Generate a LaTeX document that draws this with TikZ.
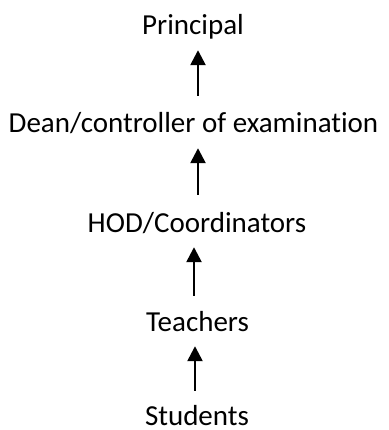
\documentclass[tikz,border=0pt]{standalone}
\usepackage{fontspec}
\setmainfont{Carlito}[Ligatures=NoCommon]
\usetikzlibrary{arrows.meta}

\begin{document}
\begin{tikzpicture}
  [x=1pt,y=-1pt,
    every node/.style={inner sep=0pt,anchor=base,font=\fontsize{29}{33}\selectfont,
      text height=19pt,text depth=6pt},
    rise/.style={line width=2.5pt,shorten <=18pt,shorten >=9pt,
      -{Triangle[length=15pt,width=15pt]}},
]
  \useasboundingbox (0,0) rectangle (388,430);
  \node (principal) at (193,35) {Principal};
  \node (dean) at (193.5,133) {Dean/controller of examination};
  \node (hod) at (197,232) {HOD/Coordinators};
  \node (teachers) at (197.5,331) {Teachers};
  \node[text depth=1pt] (students) at (197,425) {Students};
  % arrows point upwards
  \draw[rise] ([xshift=4.5pt]dean.north) -- ([xshift=5pt]principal.south);
  \draw[rise] ([xshift=1pt]hod.north) -- ([xshift=1pt]hod.north |- dean.south);
  \draw[rise,shorten <=16pt] ([xshift=-3.5pt]teachers.north) -- ([xshift=-3.5pt]teachers.north |- hod.south);
  \draw[rise,shorten <=15pt] ([xshift=-2pt]students.north) -- ([xshift=-2pt]students.north |- teachers.south);
\end{tikzpicture}
\end{document}
